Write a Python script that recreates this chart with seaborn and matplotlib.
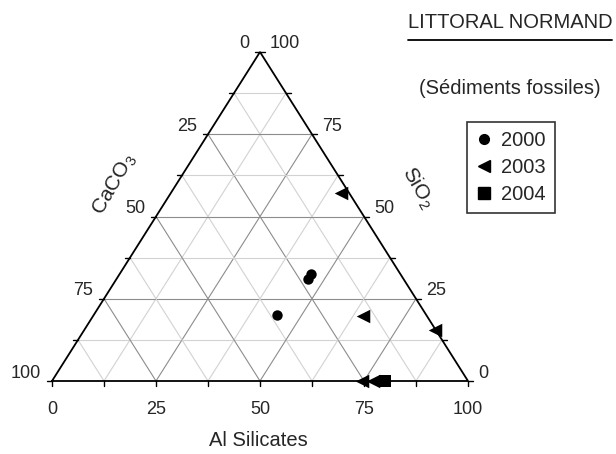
import pandas as pd
import seaborn as sns
import matplotlib.pyplot as plt
from matplotlib.lines import Line2D

# ternary data (percent)
years = ["2000", "2000", "2000", "2003", "2003", "2003", "2003", "2003", "2004"]
al_silicates = [46.0, 46.1, 44.0, 41.0, 64.8, 84.3, 74.5, 77.2, 80.0]
sio2 = [31.0, 32.4, 20.0, 57.1, 19.8, 15.5, 0.0, 0.0, 0.0]
caco3 = [23.0, 21.5, 36.0, 1.9, 15.4, 0.2, 25.5, 22.8, 20.0]

axis_ticks = [0, 25, 50, 75, 100]
grid_levels = [12.5, 25, 37.5, 50, 62.5, 75, 87.5]
year_markers = {"2000": "o", "2003": "<", "2004": "s"}
year_sizes = {"2000": 56, "2003": 95, "2004": 70}

sns.set_style("white")
plt.rcParams["font.family"] = ["Liberation Sans", "DejaVu Sans"]
plt.rcParams["mathtext.fontset"] = "custom"
plt.rcParams["mathtext.rm"] = "Liberation Sans"
FS_TICK = 13
FS = 14.5

W, H = 616, 454
fig = plt.figure(figsize=(W / 100, H / 100), dpi=100)
# axes box = bounding box of the triangle (pixels 52..468, 52..381)
ax = fig.add_axes([52 / W, (H - 381) / H, 416 / W, 329 / H])
ax.set_xlim(0, 1)
ax.set_ylim(0, 1)
ax.axis("off")

px = 1 / 416  # one pixel in x data units
py = 1 / 329


def tern(al, si):
    # al, si in fractions -> cartesian inside the triangle
    return al + si / 2, si


df = pd.DataFrame({"year": years, "al": al_silicates, "si": sio2, "ca": caco3})
df["x"], df["y"] = tern(df["al"] / 100, df["si"] / 100)

# grid
for lv in grid_levels:
    f = lv / 100
    col = "#8c8c8c" if lv % 25 == 0 else "#d2d2d2"
    lw = 0.8
    # constant SiO2
    ax.plot([f / 2, 1 - f / 2], [f, f], color=col, lw=lw, zorder=1)
    # constant Al
    x0, y0 = tern(f, 0)
    x1, y1 = tern(f, 1 - f)
    ax.plot([x0, x1], [y0, y1], color=col, lw=lw, zorder=1)
    # constant CaCO3
    x0, y0 = tern(1 - f, 0)
    x1, y1 = tern(0, 1 - f)
    ax.plot([x0, x1], [y0, y1], color=col, lw=lw, zorder=1)

# triangle frame
ax.plot([0, 1, 0.5, 0], [0, 0, 1, 0], color="black", lw=1.3, zorder=2,
        clip_on=False, solid_joinstyle="miter")

# ticks
tl = 5
for lv in [0] + grid_levels + [100]:
    f = lv / 100
    ax.plot([f, f], [0, -tl * py], color="black", lw=1.0, clip_on=False)
    lx, ly = tern(0, 1 - f)
    ax.plot([lx, lx - tl * px], [ly, ly], color="black", lw=1.0, clip_on=False)
    rx, ry = tern(1 - f, f)
    ax.plot([rx, rx + tl * px], [ry, ry], color="black", lw=1.0, clip_on=False)

# tick labels
for t in axis_ticks:
    f = t / 100
    ax.text(f, -29 * py, str(t), ha="center", va="center", fontsize=FS_TICK)
    lx, ly = tern(0, 1 - f)
    ax.text(lx - 11 * px, ly + 8 * py, str(t), ha="right", va="center", fontsize=FS_TICK)
    rx, ry = tern(1 - f, f)
    ax.text(rx + 10 * px, ry + 8 * py, str(t), ha="left", va="center", fontsize=FS_TICK)

# axis titles
ax.text((258 - 52) * px, -(441 - 381) * py, "Al Silicates", ha="center", va="center", fontsize=FS)
ax.text((115 - 52) * px, (381 - 184) * py, r"CaCO$_\mathregular{3}$", ha="center", va="center",
        rotation=60, fontsize=FS + 0.5)
ax.text((418 - 52) * px, (381 - 188) * py, r"SiO$_\mathregular{2}$", ha="center", va="center",
        rotation=-60, fontsize=FS + 0.5)

# points
for yr in ["2000", "2003", "2004"]:
    sub = df[df["year"] == yr]
    sns.scatterplot(data=sub, x="x", y="y", marker=year_markers[yr], s=year_sizes[yr],
                    color="black", edgecolor="black", linewidth=0, ax=ax,
                    legend=False, clip_on=False, zorder=5)

handles = [Line2D([], [], ls="", marker=year_markers[yr], color="black",
                  markersize={"2000": 7, "2003": 8.5, "2004": 8}[yr]) for yr in year_markers]
leg = fig.legend(handles, list(year_markers), loc="upper left",
                 bbox_to_anchor=(467 / W, 1 - 122 / H), frameon=True, fancybox=False,
                 edgecolor="black", fontsize=FS, handlelength=0.8, handletextpad=0.45,
                 labelspacing=0.4, borderpad=0.45, borderaxespad=0)
leg.get_frame().set_linewidth(1.2)
ax.set_xlabel("")
ax.set_ylabel("")

# titles on the right
fig.text(510 / W, 1 - 23 / H, "LITTORAL NORMAND", ha="center", va="center", fontsize=FS)
fig.add_artist(Line2D([408 / W, 612 / W], [1 - 39.5 / H, 1 - 39.5 / H], color="black", lw=1.3))
fig.text(510 / W, 1 - 88 / H, "(Sédiments fossiles)", ha="center", va="center", fontsize=FS)

fig.savefig("out.png", dpi=100)
